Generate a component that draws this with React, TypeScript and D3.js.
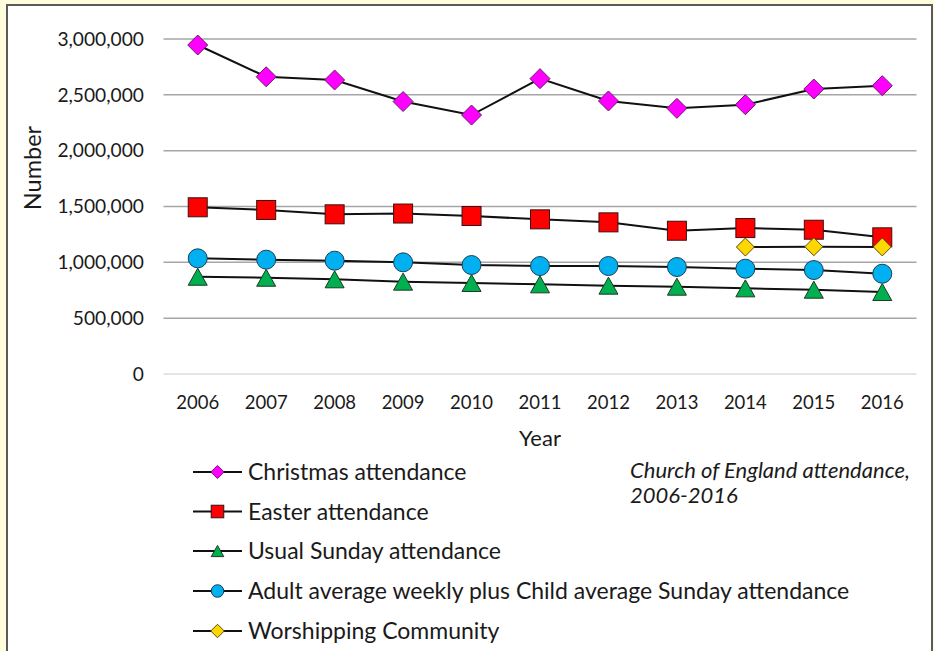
import React from "react";
import * as d3 from "d3";

const years = ["2006", "2007", "2008", "2009", "2010", "2011", "2012", "2013", "2014", "2015", "2016"];
const christmas = [2946000, 2662000, 2633000, 2440000, 2319000, 2645000, 2445000, 2379000, 2412000, 2552000, 2582000];
const easter = [1493000, 1469000, 1430000, 1437000, 1415000, 1385000, 1358000, 1283000, 1307000, 1292000, 1224000];
const usualSunday = [871000, 862000, 848000, 827000, 815000, 803000, 791000, 782000, 767000, 755000, 734000];
const adultChild = [1036000, 1024000, 1015000, 1000000, 976000, 967000, 967000, 958000, 943000, 931000, 898000];
const worshipping = [null, null, null, null, null, null, null, null, 1137000, 1140000, 1138000];
const yTicks = [0, 500000, 1000000, 1500000, 2000000, 2500000, 3000000];
const seriesNames = [
  "Christmas attendance",
  "Easter attendance",
  "Usual Sunday attendance",
  "Adult average weekly plus Child average Sunday attendance",
  "Worshipping Community",
];
const captionLines = ["Church of England attendance,", "2006-2016"];

type Shape = "diamond" | "square" | "triangle" | "circle" | "smalldiamond";

const series: { name: string; values: (number | null)[]; fill: string; stroke: string; shape: Shape }[] = [
  { name: seriesNames[0], values: christmas, fill: "#FF00FF", stroke: "#6b1a6b", shape: "diamond" },
  { name: seriesNames[1], values: easter, fill: "#FF0000", stroke: "#3a1010", shape: "square" },
  { name: seriesNames[2], values: usualSunday, fill: "#00B050", stroke: "#1c3a22", shape: "triangle" },
  { name: seriesNames[3], values: adultChild, fill: "#00B0F0", stroke: "#1b3f55", shape: "circle" },
  { name: seriesNames[4], values: worshipping, fill: "#FFD700", stroke: "#5a4a10", shape: "smalldiamond" },
];

function Marker({ shape, x, y, fill, stroke, scale = 1 }: { shape: Shape; x: number; y: number; fill: string; stroke: string; scale?: number }) {
  const common = { fill, stroke, strokeWidth: 1 };
  if (shape === "diamond" || shape === "smalldiamond") {
    const h = (shape === "diamond" ? 10 : 9) * scale;
    return <path d={`M${x},${y - h}L${x + h},${y}L${x},${y + h}L${x - h},${y}Z`} {...common} />;
  }
  if (shape === "square") {
    const s = 9.5 * scale;
    return <rect x={x - s} y={y - s} width={2 * s} height={2 * s} {...common} />;
  }
  if (shape === "triangle") {
    const w = 9.5 * scale;
    const h = 8.5 * scale;
    return <path d={`M${x},${y - h}L${x + w},${y + h}L${x - w},${y + h}Z`} {...common} />;
  }
  return <circle cx={x} cy={y} r={9.5 * scale} {...common} />;
}

export default function App() {
  const W = 934;
  const H = 651;
  const x = d3.scaleBand().domain(years).range([163.5, 916.5]).paddingInner(0).paddingOuter(0);
  const cx = (d: string) => (x(d) as number) + x.bandwidth() / 2;
  const y = d3.scaleLinear().domain([0, 3000000]).range([374, 39]);
  const fmt = d3.format(",");
  const font = "Lato, 'Open Sans', sans-serif";

  const line = d3
    .line<{ year: string; v: number | null }>()
    .defined((d) => d.v !== null)
    .x((d) => cx(d.year))
    .y((d) => y(d.v as number));

  const legendRows = [472, 511.5, 551, 591, 631];

  return (
    <svg width={W} height={H} style={{ position: "absolute", left: 0, top: 0 }} fontFamily={font}>
      <rect x={0} y={0} width={W} height={H} fill="#FFFCDC" />
      <rect x={7} y={5} width={925} height={H + 10} fill="#FFFFFF" stroke="#5a5a5a" strokeWidth={2} />

      {yTicks.map((t) => (
        <g key={t}>
          <line x1={163.5} x2={916.5} y1={y(t)} y2={y(t)} stroke={t === 0 ? "#dcdcdc" : "#a6a6a6"} strokeWidth={1.5} />
          <text x={144} y={y(t)} dy="0.35em" textAnchor="end" fontSize={19.2} fill="#1a1a1a">
            {fmt(t)}
          </text>
        </g>
      ))}

      {years.map((yr) => (
        <text key={yr} x={cx(yr)} y={409} textAnchor="middle" fontSize={18.5} fill="#1a1a1a">
          {yr}
        </text>
      ))}

      <text x={540} y={446} textAnchor="middle" fontSize={22} fill="#1a1a1a">
        Year
      </text>
      <text transform="translate(41,168) rotate(-90)" textAnchor="middle" fontSize={23.5} fill="#1a1a1a">
        Number
      </text>

      {series.map((s) => {
        const pts = years.map((yr, i) => ({ year: yr, v: s.values[i] }));
        return (
          <g key={s.name}>
            <path d={line(pts) || ""} fill="none" stroke="#111" strokeWidth={2} />
            {pts
              .filter((p) => p.v !== null)
              .map((p) => (
                <Marker key={p.year} shape={s.shape} x={cx(p.year)} y={y(p.v as number)} fill={s.fill} stroke={s.stroke} />
              ))}
          </g>
        );
      })}

      {series.map((s, i) => (
        <g key={s.name}>
          <line x1={193} x2={242} y1={legendRows[i]} y2={legendRows[i]} stroke="#111" strokeWidth={2} />
          <Marker shape={s.shape} x={217.5} y={legendRows[i]} fill={s.fill} stroke={s.stroke} scale={s.shape === "smalldiamond" ? 0.75 : 0.66} />
          <text x={248} y={legendRows[i]} dy="0.36em" fontSize={23} fill="#1a1a1a">
            {s.name}
          </text>
        </g>
      ))}

      {captionLines.map((c, i) => (
        <text key={c} x={630} y={478 + i * 25} fontSize={22} fontStyle="italic" fill="#1a1a1a">
          {c}
        </text>
      ))}
    </svg>
  );
}
